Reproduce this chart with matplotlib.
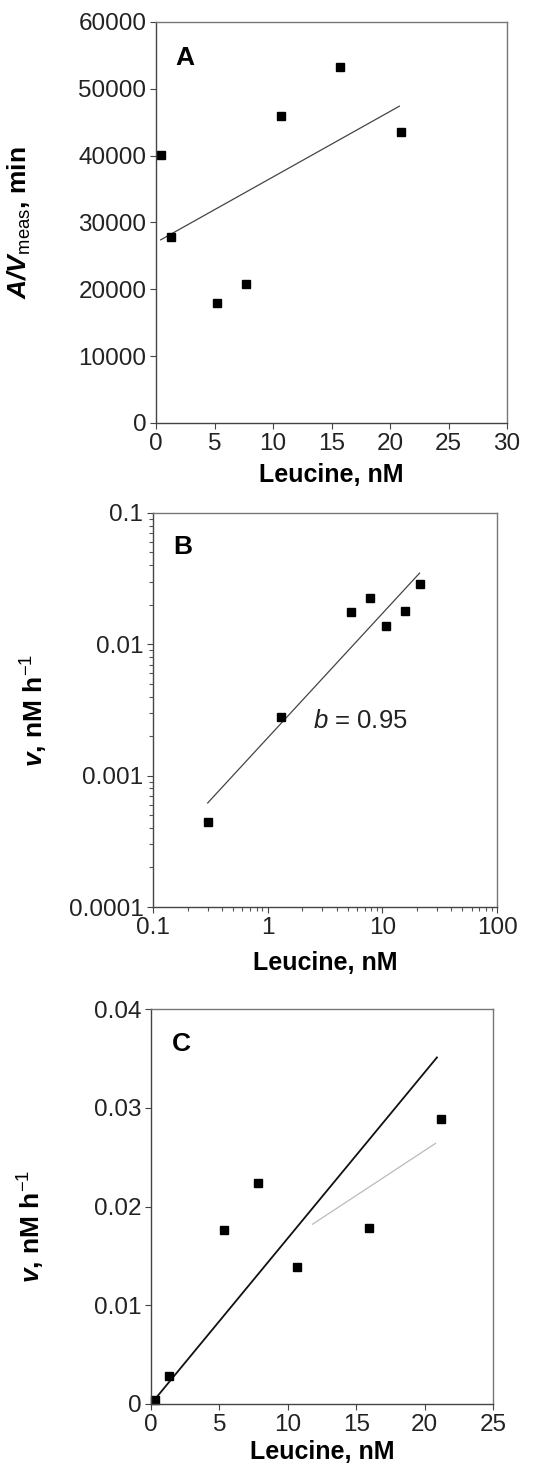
import numpy as np
import matplotlib
matplotlib.use("Agg")
import matplotlib.pyplot as plt
from matplotlib.ticker import FixedLocator, FixedFormatter, LogLocator, NullFormatter

plt.rcParams['font.family'] = ['Liberation Sans', 'DejaVu Sans']
plt.rcParams['mathtext.fontset'] = 'custom'
plt.rcParams['mathtext.rm'] = 'Liberation Sans'
plt.rcParams['mathtext.it'] = 'Liberation Sans:italic'
plt.rcParams['mathtext.bf'] = 'Liberation Sans:bold'
plt.rcParams['mathtext.bfit'] = 'Liberation Sans:bold:italic'

# Leucine concentrations (nM)
leu_a = [0.4, 1.3, 5.2, 7.7, 10.7, 15.7, 20.9]
av_meas = [40150, 27800, 18000, 20850, 45900, 53200, 43500]

leu_bc = [0.3, 1.3, 5.3, 7.8, 10.7, 15.9, 21.2]
rate_v = [0.00044, 0.0028, 0.0176, 0.0224, 0.0139, 0.0178, 0.0289]

# fitted lines
fit_a_x = [0.4, 20.8]
fit_a_y = [27400, 47400]
fit_b_x = [0.3, 21.1]
fit_b_y = [0.00062, 0.0348]
fit_c_x = [0.0, 20.9]
fit_c_y = [0.0, 0.0351]
fit_c2_x = [11.8, 20.8]
fit_c2_y = [0.0182, 0.0264]

TICK_FS = 17.5
LAB_FS = 18
tick_col = '#222222'
spine_col = '#777777'

fig = plt.figure(figsize=(5.58, 14.66), dpi=100)

def style(ax):
    for s in ax.spines.values():
        s.set_color(spine_col)
        s.set_linewidth(1.0)
    ax.spines['left'].set_color('#444444')
    ax.spines['bottom'].set_color('#444444')
    ax.tick_params(direction='out', length=4, width=0.8, colors='#444444',
                   labelsize=TICK_FS, labelcolor=tick_col, pad=3)
    ax.tick_params(which='minor', direction='out', length=3, width=0.8, colors='#555555')

# ---- A ----
ax1 = fig.add_axes([0.2796, 0.7115, 0.629, 0.2735])
ax1.plot(fit_a_x, fit_a_y, color='#444444', lw=0.9)
ax1.plot(leu_a, av_meas, 's', color='black', ms=5.5)
ax1.set_xlim(0, 30)
ax1.set_ylim(0, 60000)
ax1.set_xticks(range(0, 31, 5))
ax1.set_yticks(range(0, 60001, 10000))
style(ax1)
ax1.set_xlabel('Leucine, nM', fontsize=LAB_FS, fontweight='bold', labelpad=6)
ax1.set_ylabel(r'$\mathbfit{A/V}_{\mathrm{meas}}$, min', fontsize=LAB_FS + 1, fontweight='bold')
ax1.yaxis.set_label_coords(-0.35, 0.5)
ax1.text(0.055, 0.94, 'A', transform=ax1.transAxes, fontsize=19, fontweight='bold', va='top')

# ---- B ----
ax2 = fig.add_axes([0.2742, 0.3813, 0.6165, 0.2688])
ax2.set_xscale('log')
ax2.set_yscale('log')
ax2.plot(fit_b_x, fit_b_y, color='#444444', lw=0.9)
ax2.plot(leu_bc, rate_v, 's', color='black', ms=5.5)
ax2.set_xlim(0.1, 100)
ax2.set_ylim(0.0001, 0.1)
ax2.xaxis.set_major_locator(FixedLocator([0.1, 1, 10, 100]))
ax2.xaxis.set_major_formatter(FixedFormatter(['0.1', '1', '10', '100']))
ax2.yaxis.set_major_locator(FixedLocator([0.0001, 0.001, 0.01, 0.1]))
ax2.yaxis.set_major_formatter(FixedFormatter(['0.0001', '0.001', '0.01', '0.1']))
ax2.xaxis.set_minor_locator(LogLocator(base=10, subs=np.arange(2, 10), numticks=20))
ax2.yaxis.set_minor_locator(LogLocator(base=10, subs=np.arange(2, 10), numticks=20))
ax2.xaxis.set_minor_formatter(NullFormatter())
ax2.yaxis.set_minor_formatter(NullFormatter())
style(ax2)
ax2.set_xlabel('Leucine, nM', fontsize=LAB_FS, fontweight='bold', labelpad=9)
ax2.set_ylabel(r'$\mathbfit{v}$, nM h$^{-1}$', fontsize=LAB_FS + 1, fontweight='bold')
ax2.yaxis.set_label_coords(-0.30, 0.5)
ax2.text(0.06, 0.945, 'B', transform=ax2.transAxes, fontsize=19, fontweight='bold', va='top')
ax2.text(2.5, 0.0026, r'$b$ = 0.95', fontsize=18.5, va='center', color=tick_col)

# ---- C ----
ax3 = fig.add_axes([0.2706, 0.0423, 0.613, 0.2694])
ax3.plot(fit_c2_x, fit_c2_y, color='#bbbbbb', lw=0.9)
ax3.plot(fit_c_x, fit_c_y, color='#111111', lw=1.3)
ax3.plot(leu_bc, rate_v, 's', color='black', ms=5.5, clip_on=False)
ax3.set_xlim(0, 25)
ax3.set_ylim(0, 0.04)
ax3.set_xticks(range(0, 26, 5))
ax3.set_yticks([0, 0.01, 0.02, 0.03, 0.04])
ax3.set_yticklabels(['0', '0.01', '0.02', '0.03', '0.04'])
style(ax3)
ax3.set_xlabel('Leucine, nM', fontsize=LAB_FS, fontweight='bold', labelpad=3)
ax3.set_ylabel(r'$\mathbfit{v}$, nM h$^{-1}$', fontsize=LAB_FS + 1, fontweight='bold')
ax3.yaxis.set_label_coords(-0.305, 0.45)
ax3.text(0.06, 0.943, 'C', transform=ax3.transAxes, fontsize=19, fontweight='bold', va='top')

fig.savefig('out.png', dpi=100)
